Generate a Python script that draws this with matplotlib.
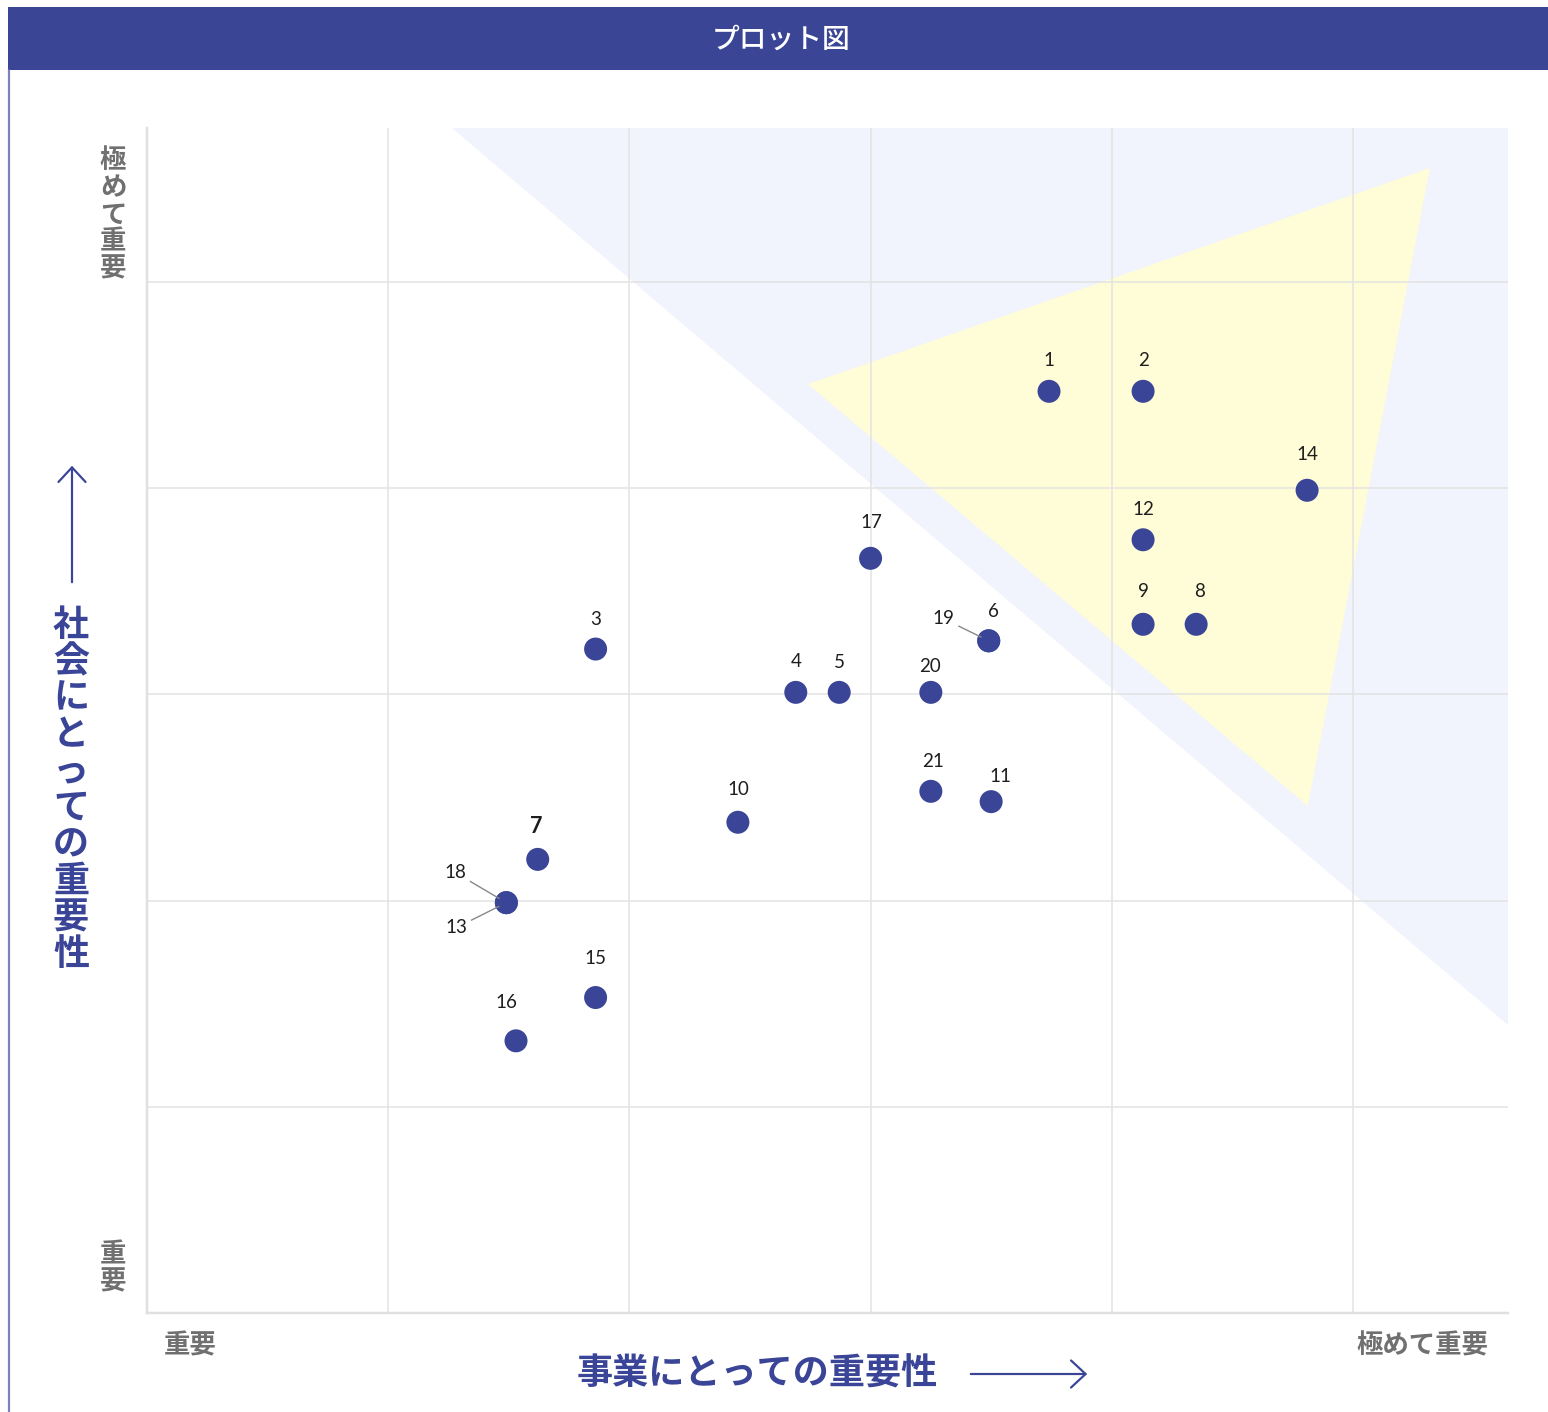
import matplotlib
matplotlib.use("Agg")
import matplotlib.pyplot as plt
from matplotlib.patches import Rectangle, Polygon, FancyArrowPatch
from matplotlib.lines import Line2D

plt.rcParams['font.family'] = ['Noto Sans CJK JP', 'DejaVu Sans']

# ---------------- data ----------------
issue_labels = ['1', '2', '14', '12', '9', '8', '17', '6', '19', '3', '4', '5', '20',
                '21', '11', '10', '7', '18', '13', '15', '16']
business_importance = [3.74, 4.13, 4.81, 4.13, 4.13, 4.35, 3.00, 3.49, 3.49, 1.86, 2.69,
                       2.87, 3.25, 3.25, 3.50, 2.45, 1.62, 1.49, 1.49, 1.86, 1.53]
social_importance = [4.47, 4.47, 3.99, 3.75, 3.34, 3.34, 3.66, 3.26, 3.26, 3.22, 3.01,
                     3.01, 3.01, 2.53, 2.48, 2.38, 2.20, 1.99, 1.99, 1.53, 1.32]

blue_zone_x = [1.264, 5.643, 5.643]
blue_zone_y = [5.747, 5.747, 1.397]
yellow_zone_x = [2.740, 5.319, 4.813]
yellow_zone_y = [4.505, 5.553, 2.459]

x_tick_labels = ['重要', '極めて重要']
y_tick_labels = ['重要', '極めて重要']
x_axis_title = '事業にとっての重要性'
y_axis_title = '社会にとっての重要性'
chart_title = 'プロット図'

# ---------------- styling ----------------
W, H = 1548, 1412
DPI = 100
NAVY = '#3b4597'
GRID = '#e3e3e3'
TICK_GRAY = '#707070'
PT = 72.0 / DPI  # points per pixel

# label offsets in pixels (dx, dy up), and which have leader lines
label_offsets = {
    '1': (0, 31), '2': (0, 31), '14': (0, 36), '12': (0, 30), '9': (0, 33),
    '8': (3, 33), '17': (1, 36), '6': (5, 29), '19': (-45, 22), '3': (0, 30),
    '4': (0, 31), '5': (0, 30), '20': (-1, 26), '21': (2, 30), '11': (9, 25),
    '10': (0, 33), '7': (-1, 33), '18': (-51, 30), '13': (-50, -25),
    '15': (0, 39), '16': (-10, 38),
}
leader_labels = {'19', '18', '13'}


def fig_xy(px, py):
    return px / W, 1 - py / H


fig = plt.figure(figsize=(W / DPI, H / DPI), dpi=DPI)
fig.patch.set_facecolor('white')

# header bar
x0, y0 = fig_xy(8, 70)
fig.add_artist(Rectangle((x0, y0), 1 - x0, 63 / H, transform=fig.transFigure,
                         facecolor='#3b4596', edgecolor='none', zorder=0))
fig.text(*fig_xy(781, 39), chart_title, color='white', fontsize=20,
         fontweight='medium', ha='center', va='center')
# left border
fig.add_artist(Line2D([9 / W, 9 / W], [0, 1 - 70 / H], transform=fig.transFigure,
                      color='#5a60b0', linewidth=2.2 * PT, alpha=0.8))

# axes
left, right = 147 / W, 1508 / W
bottom, top = 1 - 1313 / H, 1 - 128 / H
ax = fig.add_axes([left, bottom, right - left, top - bottom])
ax.set_xlim(0, 5.643)
ax.set_ylim(0, 5.747)
ax.set_xticks(range(0, 6))
ax.set_yticks(range(0, 6))
ax.set_xticklabels([])
ax.set_yticklabels([])
ax.tick_params(length=0)
ax.set_axisbelow(True)
ax.grid(True, color=GRID, linewidth=1.5 * PT)
for s in ['top', 'right']:
    ax.spines[s].set_visible(False)
for s in ['left', 'bottom']:
    ax.spines[s].set_color('#e0e0e0')
    ax.spines[s].set_linewidth(2.5 * PT)

ax.add_patch(Polygon(list(zip(blue_zone_x, blue_zone_y)), closed=True,
                     facecolor='#f1f3fd', edgecolor='none', zorder=0.2))
ax.add_patch(Polygon(list(zip(yellow_zone_x, yellow_zone_y)), closed=True,
                     facecolor='#fffdd8', edgecolor='none', zorder=0.3))

ax.scatter(business_importance, social_importance, s=(23 * PT) ** 2,
           color=NAVY, edgecolors='none', zorder=5)

for lab, xv, yv in zip(issue_labels, business_importance, social_importance):
    dx, dy = label_offsets[lab]
    bold = lab == '7'
    kw = dict(xy=(xv, yv), xytext=(dx * PT, dy * PT), textcoords='offset points',
              ha='center', va='center', fontsize=15.5 if bold else 13.5,
              fontweight='bold' if bold else 'normal', color='#1e1e1e',
              family=['Lato', 'DejaVu Sans'], zorder=6)
    if lab in leader_labels:
        kw['arrowprops'] = dict(arrowstyle='-', color='#888888', lw=1.0,
                                shrinkA=1, shrinkB=6)
    ax.annotate(lab, **kw)

# tick labels
fig.text(*fig_xy(190, 1346), x_tick_labels[0], color=TICK_GRAY, fontsize=19,
         fontweight='bold', ha='center', va='center')
fig.text(*fig_xy(1422, 1346), x_tick_labels[1], color=TICK_GRAY, fontsize=19,
         fontweight='bold', ha='center', va='center')
for i, ch in enumerate(y_tick_labels[1]):
    fig.text(*fig_xy(113, 161 + 27 * i), ch, color=TICK_GRAY, fontsize=19,
             fontweight='bold', ha='center', va='center')
for i, ch in enumerate(y_tick_labels[0]):
    fig.text(*fig_xy(113, 1255 + 27 * i), ch, color=TICK_GRAY, fontsize=19,
             fontweight='bold', ha='center', va='center')

# axis titles
fig.text(*fig_xy(757, 1374), x_axis_title, color=NAVY, fontsize=26,
         fontweight='bold', ha='center', va='center')
for i, ch in enumerate(y_axis_title):
    fig.text(*fig_xy(71, 625 + 36.6 * i), ch, color=NAVY, fontsize=26,
             fontweight='bold', ha='center', va='center')

# arrows
for (a, b) in [((968, 1374), (1090, 1374)), ((72, 585), (72, 463))]:
    fig.add_artist(FancyArrowPatch(fig_xy(*a), fig_xy(*b), transform=fig.transFigure,
                                   arrowstyle='->,head_length=0.7,head_width=0.65',
                                   mutation_scale=15, color=NAVY, linewidth=2.2 * PT))

fig.savefig('out.png', dpi=DPI)
